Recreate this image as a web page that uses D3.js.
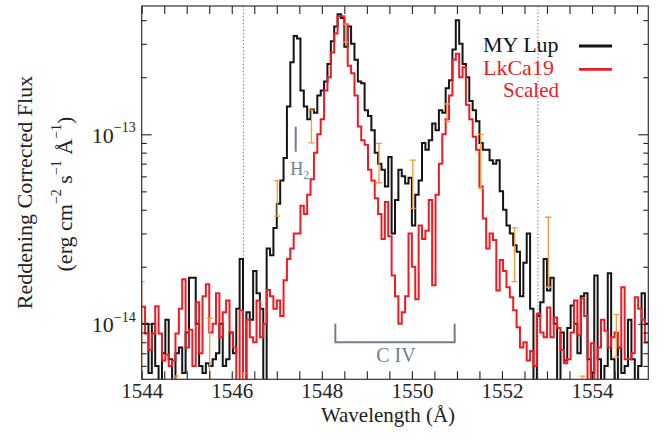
<!DOCTYPE html>
<html>
<head>
<meta charset="utf-8">
<script src="https://cdn.jsdelivr.net/npm/d3@7"></script>
<style>
  body { margin: 0; background: #fff; }
  svg text { font-family: "Liberation Serif", "DejaVu Serif", serif; }
</style>
</head>
<body>
<div id="chartContainer"></div>
<script type="text/javascript">
  // binned spectra: first bin starts at lamStart, each bin lamStep wide (Angstrom)
  var lamStart = 1544.0;
  var lamStep = 0.075;
  // flux values below are in units of 1e-14 erg cm-2 s-1 A-1
  var fluxUnit = 1e-14;

  var myLup = [1.0,1.0,0.55,1.0,0.6,0.45,0.7,1.05,0.65,0.5,
    0.7,0.75,0.55,0.9,1.75,1.75,1.0,0.6,0.55,0.62,
    0.6,0.65,0.7,1.0,0.6,0.65,0.9,0.7,1.2,2.2,
    0.45,1.15,1.05,1.9,1.45,1.2,0.48,2.5,2.3,3.2,
    4.3,5.7,7.5,14,24,33,32,17,14,12,
    13.5,13,16,17,19,23.5,31,37,43,41,
    29,37,30,24.7,19,18.6,13.4,12.5,10.5,8,
    7,6.5,5.3,7.6,3.0,4.5,6.5,6.0,5.5,5.9,
    3.3,4.8,5.7,9,8.3,9.3,11.4,10.5,13.4,13,
    17.5,19.3,28,40,30,23.5,20,15,13.4,11.7,
    9,8.3,8.3,7.3,7.0,7.3,5.0,4.0,3.3,3.0,
    2.6,2.4,1.4,2.1,3.0,1.2,0.5,1.1,1.3,2.2,
    1.5,1.75,1.0,0.48,0.9,0.64,0.95,1.25,1.0,0.7,
    1.4,1.45,0.65,0.55,1.8,0.65,0.5,0.6,1.85,0.65,
    0.5,0.75,0.55,0.6,1.05,0.65,0.5,0.6,1.45,1.0];

  var lkca19 = [1.23,0.89,0.73,0.89,1.24,0.89,0.64,0.69,0.6,0.64,
    0.89,1.2,1.72,0.75,0.93,0.6,1.3,0.7,1.4,1.62,
    0.9,1.0,1.45,0.85,1.15,1.33,0.9,0.75,0.48,1.18,
    0.5,1.05,0.85,0.8,1.33,0.85,1.0,1.51,1.4,1.2,
    1.33,1.1,1.7,2.2,2.5,3.0,3.0,4.2,3.8,4.8,
    5.8,8,10,12,17,20,27,34,42,42,
    38,23,21,16,11,9.3,8.8,6.5,5.7,4.6,
    3.8,2.8,4.4,2.9,1.8,1.4,1.0,1.15,1.4,3.0,
    2.0,1.35,3.3,2.8,3.1,4.5,1.6,4.8,7.0,10,
    12,16,24.7,26.6,20,22.6,14.3,12,9.7,8.3,
    5.3,3.6,2.5,3.0,2.77,1.5,2.17,1.9,1.56,1.38,
    1.18,0.96,0.75,0.8,0.64,0.72,0.6,1.13,0.9,0.85,
    1.22,0.85,1.08,0.95,0.73,0.62,0.65,0.9,1.33,0.87,
    1.36,1.1,0.5,0.79,0.5,0.75,1.05,0.92,0.75,0.85,
    0.9,0.75,1.56,0.65,0.65,0.7,1.38,1.2,1.05,0.8];

  // error bars (same units)
  var errWave = [1544.0, 1544.76, 1545.51, 1546.26, 1547.01, 1547.77, 1548.52, 1549.27,
    1550.02, 1550.78, 1551.53, 1552.28, 1553.03, 1553.79, 1554.54];
  var errLow = [0.3, 0.3, 0.3, 0.4, 3.7, 9.0, 30.6, 5.55, 4.07, 11.66, 5.19, 1.67, 1.56, 0.3, 0.67];
  var errHigh = [1.67, 0.53, 1.07, 0.55, 5.69, 13.4, 38.1, 8.96, 7.31, 14.45, 10.0, 3.21, 3.65, 0.53, 1.12];

  var xTicks = [1544, 1546, 1548, 1550, 1552, 1554];
  var yTicks = [1e-14, 1e-13];
  var yTickExp = ["\u221214", "\u221213"];
  var yMinor = [6e-15, 7e-15, 8e-15, 9e-15, 2e-14, 3e-14, 4e-14, 5e-14, 6e-14, 7e-14, 8e-14, 9e-14,
    2e-13, 3e-13, 4e-13];

  // annotation positions
  var dottedWave = [1546.26, 1552.8];
  var civWave = [1548.30, 1550.95];
  var civFlux = [1.0, 0.8];
  var h2Wave = 1547.42;
  var h2Flux = [10.97, 8.09];

  var width = 665, height = 441;
  var plot = { left: 141.7, right: 648.3, top: 6, bottom: 379.3 };
  var annoColor = "#6f7e92";

  var svg = d3.select("#chartContainer").append("svg")
    .attr("width", width).attr("height", height);

  var x = d3.scaleLinear().domain([1544, 1555.25]).range([plot.left, plot.right]);
  var y = d3.scaleLog().domain([5.1e-15, 4.75e-13]).range([plot.bottom, plot.top]);

  svg.append("clipPath").attr("id", "clip").append("rect")
    .attr("x", plot.left).attr("y", plot.top)
    .attr("width", plot.right - plot.left).attr("height", plot.bottom - plot.top);

  var g = svg.append("g").attr("clip-path", "url(#clip)");

  // dotted velocity markers
  g.selectAll(".dotted").data(dottedWave).enter().append("line")
    .attr("x1", function (d) { return x(d); }).attr("x2", function (d) { return x(d); })
    .attr("y1", plot.top).attr("y2", plot.bottom)
    .attr("stroke", "#7a7a7a").attr("stroke-width", 1.2)
    .attr("stroke-dasharray", "1.2,2.2");

  function stepPoints(vals) {
    var pts = vals.map(function (v, i) { return [lamStart + i * lamStep, v * fluxUnit]; });
    pts.push([lamStart + vals.length * lamStep, vals[vals.length - 1] * fluxUnit]);
    return pts;
  }
  var line = d3.line().curve(d3.curveStepAfter)
    .x(function (d) { return x(d[0]); })
    .y(function (d) { return y(d[1]); });

  g.append("path").datum(stepPoints(myLup))
    .attr("d", line).attr("fill", "none")
    .attr("stroke", "#141414").attr("stroke-width", 2).attr("stroke-linejoin", "miter");
  g.append("path").datum(stepPoints(lkca19))
    .attr("d", line).attr("fill", "none")
    .attr("stroke", "#ed1c24").attr("stroke-width", 2).attr("stroke-linejoin", "miter");

  // error bars
  var errData = errWave.map(function (w, i) {
    return { w: w, lo: errLow[i] * fluxUnit, hi: errHigh[i] * fluxUnit };
  });
  var eb = g.selectAll(".err").data(errData).enter().append("g")
    .attr("stroke", "#f39a3a").attr("stroke-width", 1.3);
  eb.append("line")
    .attr("x1", function (d) { return x(d.w); }).attr("x2", function (d) { return x(d.w); })
    .attr("y1", function (d) { return y(d.lo); }).attr("y2", function (d) { return y(d.hi); });
  eb.append("line")
    .attr("x1", function (d) { return x(d.w) - 3; }).attr("x2", function (d) { return x(d.w) + 3; })
    .attr("y1", function (d) { return y(d.hi); }).attr("y2", function (d) { return y(d.hi); });
  eb.append("line")
    .attr("x1", function (d) { return x(d.w) - 3; }).attr("x2", function (d) { return x(d.w) + 3; })
    .attr("y1", function (d) { return y(d.lo); }).attr("y2", function (d) { return y(d.lo); });

  // axes, ticks pointing inward
  var xMinor = d3.range(1544, 1555.3, 0.5);
  svg.append("g").attr("transform", "translate(0," + plot.bottom + ")")
    .call(d3.axisBottom(x).tickValues(xMinor).tickSize(-8).tickFormat(""));
  svg.append("g").attr("transform", "translate(0," + plot.top + ")")
    .call(d3.axisTop(x).tickValues(xMinor).tickSize(-8).tickFormat(""));
  var xLab = svg.append("g").attr("transform", "translate(0," + plot.bottom + ")")
    .call(d3.axisBottom(x).tickValues(xTicks).tickSize(0).tickPadding(4).tickFormat(d3.format("d")));
  xLab.selectAll("text").attr("font-size", "21px").attr("fill", "#222")
    .style("font-family", "'Liberation Serif', serif");

  svg.append("g").attr("transform", "translate(" + plot.left + ",0)")
    .call(d3.axisLeft(y).tickValues(yMinor).tickSize(-5).tickFormat(""));
  svg.append("g").attr("transform", "translate(" + plot.right + ",0)")
    .call(d3.axisRight(y).tickValues(yMinor).tickSize(-5).tickFormat(""));
  svg.append("g").attr("transform", "translate(" + plot.right + ",0)")
    .call(d3.axisRight(y).tickValues(yTicks).tickSize(-10).tickFormat(""));
  var yLab = svg.append("g").attr("transform", "translate(" + plot.left + ",0)")
    .call(d3.axisLeft(y).tickValues(yTicks).tickSize(-10).tickPadding(6).tickFormat(function () { return ""; }));
  yLab.selectAll("text").each(function (d, i) {
    var t = d3.select(this).attr("font-size", "22px").attr("fill", "#222")
      .attr("dy", "0.36em").style("font-family", "'Liberation Serif', serif");
    t.append("tspan").text("10");
    t.append("tspan").attr("font-size", "14px").attr("dy", "-0.75em").text(yTickExp[i]);
  });

  svg.selectAll(".domain").remove();
  svg.selectAll(".tick line").attr("stroke", "#222").attr("stroke-width", 1.1);

  // frame
  svg.append("rect")
    .attr("x", plot.left).attr("y", plot.top)
    .attr("width", plot.right - plot.left).attr("height", plot.bottom - plot.top)
    .attr("fill", "none").attr("stroke", "#333").attr("stroke-width", 1.2);

  // axis titles
  svg.append("text")
    .attr("x", 388).attr("y", 422)
    .attr("text-anchor", "middle").attr("font-size", "21px").attr("fill", "#222")
    .text("Wavelength (\u00c5)");

  svg.append("text")
    .attr("transform", "translate(31.5,192.5) rotate(-90)")
    .attr("text-anchor", "middle").attr("font-size", "22px").attr("fill", "#222")
    .text("Reddening Corrected Flux");

  var unitText = svg.append("text")
    .attr("transform", "translate(71.5,194) rotate(-90)")
    .attr("text-anchor", "middle").attr("font-size", "22px").attr("fill", "#222");
  unitText.append("tspan").text("(erg cm");
  unitText.append("tspan").attr("font-size", "14px").attr("dy", "-0.75em").text("\u22122");
  unitText.append("tspan").attr("dy", "0.48em").text(" s");
  unitText.append("tspan").attr("font-size", "14px").attr("dy", "-0.75em").text("\u22121");
  unitText.append("tspan").attr("dy", "0.48em").text(" \u00c5");
  unitText.append("tspan").attr("font-size", "14px").attr("dy", "-0.75em").text("\u22121");
  unitText.append("tspan").attr("dy", "0.48em").text(")");

  // legend
  var legend = [
    { label: "MY Lup", color: "#141414", ty: 52, ly: 46 },
    { label: "LkCa19", color: "#ed1c24", ty: 75, ly: 69.3 }
  ];
  legend.forEach(function (d) {
    svg.append("text").attr("x", 483).attr("y", d.ty)
      .attr("font-size", "22px").attr("fill", d.color).text(d.label);
    svg.append("line").attr("x1", 579).attr("x2", 612).attr("y1", d.ly).attr("y2", d.ly)
      .attr("stroke", d.color).attr("stroke-width", 2.8);
  });
  svg.append("text").attr("x", 503).attr("y", 97)
    .attr("font-size", "21px").attr("fill", "#ed1c24").text("Scaled");

  // H2 marker
  svg.append("line")
    .attr("x1", x(h2Wave)).attr("x2", x(h2Wave))
    .attr("y1", y(h2Flux[0] * fluxUnit)).attr("y2", y(h2Flux[1] * fluxUnit))
    .attr("stroke", annoColor).attr("stroke-width", 2);
  var h2Text = svg.append("text")
    .attr("x", x(h2Wave) - 5.5).attr("y", 175)
    .attr("font-size", "18px").attr("fill", annoColor);
  h2Text.append("tspan").text("H");
  h2Text.append("tspan").attr("font-size", "12px").attr("dy", "0.3em").text("2");

  // C IV bracket
  var bx0 = x(civWave[0]), bx1 = x(civWave[1]);
  var byTop = y(civFlux[0] * fluxUnit), byBot = y(civFlux[1] * fluxUnit);
  svg.append("path")
    .attr("d", "M" + bx0 + "," + byTop + "V" + byBot + "H" + bx1 + "V" + byTop)
    .attr("fill", "none").attr("stroke", annoColor).attr("stroke-width", 2);
  svg.append("text")
    .attr("x", (bx0 + bx1) / 2 + 1).attr("y", 362)
    .attr("text-anchor", "middle").attr("font-size", "20px").attr("fill", annoColor)
    .text("C IV");
</script>
</body>
</html>
